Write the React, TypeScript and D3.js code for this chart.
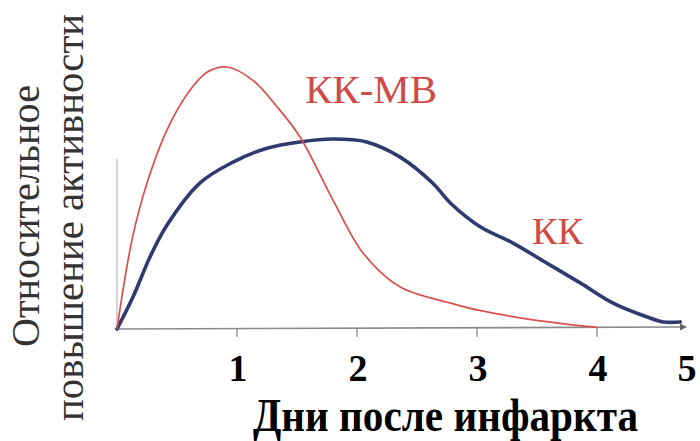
import React from "react";
import * as d3 from "d3";

const redDays = [0, 0.125, 0.25, 0.417, 0.59, 0.75, 0.917, 1.13, 1.33, 1.525, 1.8, 2.05, 2.36, 2.78, 3.03, 3.58, 4.0];
const redValues = [0, 34, 55.7, 76, 90, 98, 100, 95, 85, 73.3, 49.2, 29, 16, 9.9, 7, 2.8, 0.6];

const blueDays = [0, 0.133, 0.275, 0.417, 0.69, 0.967, 1.25, 1.525, 1.8, 2.08, 2.36, 2.63, 2.78, 3.03, 3.3, 3.58, 3.86, 4.19, 4.59, 4.78, 4.98];
const blueValues = [0, 12.2, 27.5, 39.7, 55.7, 63.7, 69, 71.4, 72.5, 71.4, 65.6, 55.7, 48, 38.9, 32.8, 25.2, 17.6, 9.9, 4.6, 2.7, 2.7];

const tickDays = [1, 2, 3, 4, 5];
const tickLabels = ["1", "2", "3", "4", "5"];

const seriesLabels = ["КК-МВ", "КК"];
const xTitle = "Дни после инфаркта";
const yTitle = ["Относительное", "повышение активности"];

const W = 700;
const H = 441;

export default function App() {
  const x = d3.scaleLinear().domain([0, 4, 5]).range([117, 597, 682]);
  const y = d3.scaleLinear().domain([0, 100]).range([329, 67]);

  const line = d3
    .line<[number, number]>()
    .x((d) => x(d[0]))
    .y((d) => y(d[1]))
    .curve(d3.curveCatmullRom.alpha(0.5));

  const red = line(redDays.map((d, i) => [d, redValues[i]]) as [number, number][]) || "";
  const blue = line(blueDays.map((d, i) => [d, blueValues[i]]) as [number, number][]) || "";

  const serif = "'Liberation Serif', 'Times New Roman', 'DejaVu Serif', serif";
  const x0 = x(0);
  const xEnd = x(5) + 2;
  const base = y(0);

  return (
    <svg width={W} height={H} style={{ position: "absolute", left: 0, top: 0, background: "#fff" }}>
      {/* faint y axis */}
      <line x1={x0} x2={x0} y1={y(65)} y2={base} stroke="#b8b8b8" strokeWidth={1.2} />
      {/* x axis */}
      <line x1={x0 - 2} x2={xEnd} y1={base} y2={base - 2} stroke="#8a8a8a" strokeWidth={1.6} />
      <path d={`M${xEnd + 3},${base - 2} l-7,-3.5 l0,7 z`} fill="#666" />
      {tickDays.slice(0, 4).map((t) => (
        <line key={t} x1={x(t)} x2={x(t)} y1={base - 1} y2={base + 8} stroke="#8a8a8a" strokeWidth={1.3} />
      ))}
      {tickDays.map((t, i) => (
        <text
          key={"l" + t}
          x={x(t) + (i === 4 ? 5 : 1)}
          y={381}
          textAnchor="middle"
          fontFamily={serif}
          fontWeight="bold"
          fontSize={38}
          fill="#000"
        >
          {tickLabels[i]}
        </text>
      ))}
      {/* curves */}
      <path d={blue} fill="none" stroke="#2f3a6e" strokeWidth={3.6} strokeLinejoin="round" strokeLinecap="round" />
      <path d={red} fill="none" stroke="#d9504c" strokeWidth={1.7} strokeLinejoin="round" />
      {/* series labels */}
      <text x={305} y={103} fontFamily={serif} fontSize={40} fill="#cf4b47" textLength={132} lengthAdjust="spacingAndGlyphs">
        {seriesLabels[0]}
      </text>
      <text x={532} y={244} fontFamily={serif} fontSize={38} fill="#cf4b47" textLength={51} lengthAdjust="spacingAndGlyphs">
        {seriesLabels[1]}
      </text>
      {/* x title */}
      <text
        x={253}
        y={431}
        fontFamily={serif}
        fontWeight="bold"
        fontSize={46}
        fill="#000"
        textLength={385}
        lengthAdjust="spacingAndGlyphs"
      >
        {xTitle}
      </text>
      {/* y title */}
      <g transform="translate(39,347) rotate(-90)">
        <text x={0} y={0} fontFamily={serif} fontSize={41} fill="#333" textLength={262} lengthAdjust="spacingAndGlyphs">
          {yTitle[0]}
        </text>
      </g>
      <g transform="translate(83,421) rotate(-90)">
        <text x={0} y={0} fontFamily={serif} fontSize={41} fill="#333" textLength={407} lengthAdjust="spacingAndGlyphs">
          {yTitle[1]}
        </text>
      </g>
    </svg>
  );
}
